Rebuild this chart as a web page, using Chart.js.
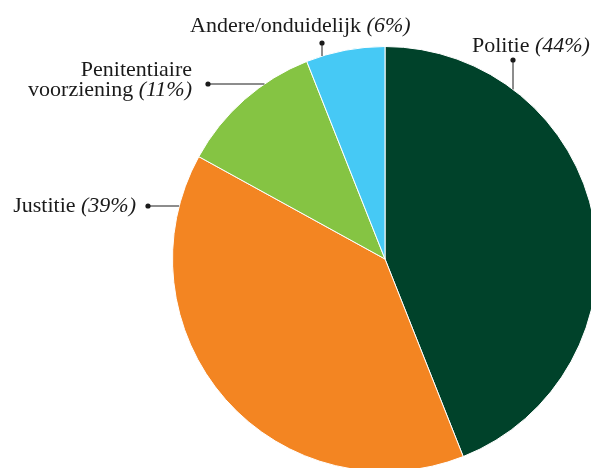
<!DOCTYPE html>
<html>
<head>
<meta charset="utf-8">
<script src="https://cdn.jsdelivr.net/npm/chart.js@4.4.1/dist/chart.umd.min.js"></script>
<style>
  html, body { margin: 0; padding: 0; background: #fff; overflow: hidden; }
  #wrap { position: absolute; left: 0; top: 0; width: 600px; height: 476px; }
</style>
</head>
<body>
<div id="wrap"><canvas id="pie" width="600" height="476"></canvas></div>
<script>
// --- Data ---
const categories = ['Politie', 'Justitie', 'Penitentiaire voorziening', 'Andere/onduidelijk'];
const values = [44, 39, 11, 6];
const sliceColors = ['#00422a', '#f38522', '#85c443', '#46c9f5'];

// label placement (text lines, anchor, dot and leader direction)
const labelLayout = [
    { lines: ['Politie'], x: 472, y: 52, align: 'left', dot: [513, 60], dir: 'down' },
    { lines: ['Justitie'], x: 136, y: 212, align: 'right', dot: [148, 206], dir: 'right' },
    { lines: ['Penitentiaire', 'voorziening'], x: 192, y: 76, lh: 20, align: 'right', dot: [208, 84], dir: 'right' },
    { lines: ['Andere/onduidelijk'], x: 190, y: 32, align: 'left', dot: [322, 43], dir: 'down' }
];

const FONT = '22px "Liberation Serif", "DejaVu Serif", serif';
const FONT_IT = 'italic 22px "Liberation Serif", "DejaVu Serif", serif';

const labelPlugin = {
    id: 'pieLabels',
    afterDraw: (chart) => {
        const ctx = chart.ctx;
        const arc = chart.getDatasetMeta(0).data[0];
        const cx = arc.x, cy = arc.y, r = arc.outerRadius;
        ctx.save();
        ctx.fillStyle = '#1a1a1a';
        ctx.strokeStyle = '#1a1a1a';
        ctx.textBaseline = 'alphabetic';
        labelLayout.forEach((lab, i) => {
            const pct = '(' + values[i] + '%)';
            const lh = lab.lh || 22;
            lab.lines.forEach((line, li) => {
                const y = lab.y + li * lh;
                const last = li === lab.lines.length - 1;
                ctx.font = FONT;
                const w1 = ctx.measureText(last ? line + ' ' : line).width;
                ctx.font = FONT_IT;
                const w2 = last ? ctx.measureText(pct).width : 0;
                let x0 = lab.align === 'right' ? lab.x - (w1 + w2) : lab.x;
                ctx.textAlign = 'left';
                ctx.font = FONT;
                ctx.fillText(last ? line + ' ' : line, x0, y);
                if (last) {
                    ctx.font = FONT_IT;
                    ctx.fillText(pct, x0 + w1, y);
                }
            });
            // leader line + dot
            const [dx, dy] = lab.dot;
            let ex, ey;
            if (lab.dir === 'down') {
                ex = dx; ey = cy - Math.sqrt(r * r - (dx - cx) * (dx - cx));
            } else {
                ey = dy; ex = cx - Math.sqrt(r * r - (dy - cy) * (dy - cy));
            }
            ctx.lineWidth = 1;
            ctx.beginPath();
            ctx.moveTo(dx, dy);
            ctx.lineTo(ex, ey);
            ctx.stroke();
            ctx.beginPath();
            ctx.arc(dx, dy, 2.6, 0, Math.PI * 2);
            ctx.fill();
        });
        ctx.restore();
    }
};

new Chart(document.getElementById('pie'), {
    type: 'pie',
    data: {
        labels: categories,
        datasets: [{
            data: values,
            backgroundColor: sliceColors,
            borderColor: '#ffffff',
            borderWidth: 1
        }]
    },
    options: {
        responsive: false,
        animation: false,
        layout: { padding: { left: 172, top: 46, right: 2, bottom: 4 } },
        plugins: {
            legend: { display: false },
            tooltip: { enabled: false }
        }
    },
    plugins: [labelPlugin]
});
</script>
</body>
</html>
